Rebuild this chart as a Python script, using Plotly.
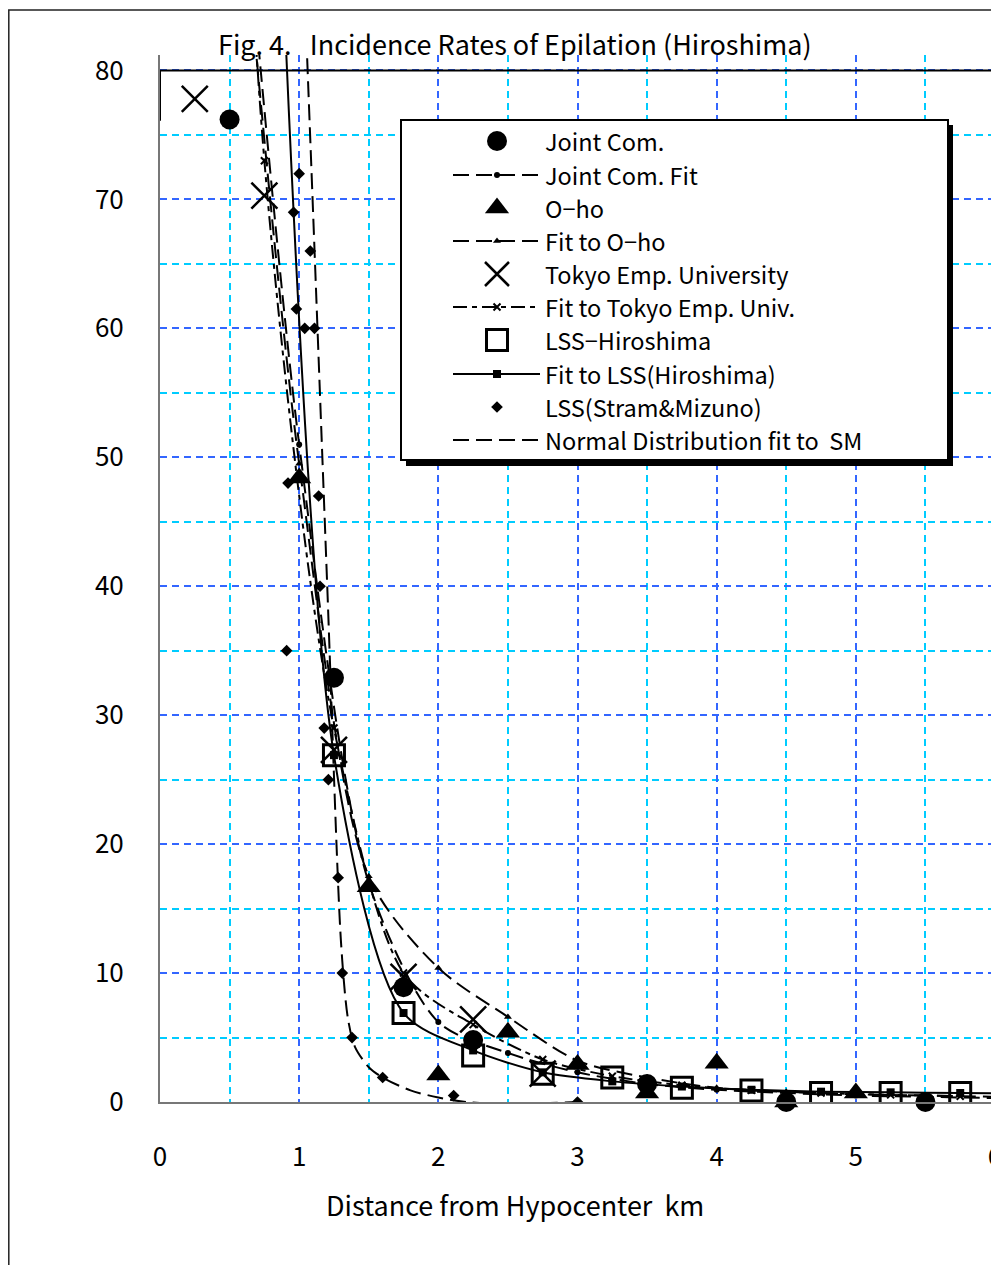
import plotly.graph_objects as go

# ---------------- data ----------------
joint_x = [0.5, 1.25, 1.75, 2.25, 3.5, 4.5, 5.5]
joint_y = [76.2, 32.9, 8.9, 4.8, 1.4, 0.0, 0.0]

joint_fit_x = [0.5, 1.0, 1.5, 2.0, 2.5, 3.0, 3.5, 4.0, 4.5, 5.0, 5.5, 6.0]
joint_fit_y = [107, 51, 17.0, 6.2, 3.8, 2.3, 1.4, 0.95, 0.7, 0.5, 0.4, 0.3]

oho_x = [1.0, 1.5, 2.0, 2.5, 3.0, 3.5, 4.0, 4.5, 5.0]
oho_y = [48.4, 16.7, 2.1, 5.4, 2.9, 0.7, 3.0, 0.0, 0.7]

oho_fit_x = [0.5, 1.0, 1.5, 2.0, 2.5, 3.0, 3.5, 4.0, 4.5, 5.0, 5.5, 6.0]
oho_fit_y = [104, 49.5, 17.5, 10.4, 6.6, 3.2, 1.9, 1.1, 0.8, 0.6, 0.5, 0.4]

tokyo_x = [0.25, 0.75, 1.25, 1.75, 2.25, 2.75]
tokyo_y = [77.8, 70.3, 27.3, 9.7, 6.4, 2.2]

tokyo_fit_x = [0.25, 0.75, 1.25, 1.75, 2.25, 2.75, 3.25, 3.75, 4.25, 4.75, 5.25, 5.75]
tokyo_fit_y = [190, 73, 29, 10.0, 6.0, 3.3, 2.0, 1.3, 0.9, 0.7, 0.55, 0.45]

lss_x = [1.25, 1.75, 2.25, 2.75, 3.25, 3.75, 4.25, 4.75, 5.25, 5.75]
lss_y = [26.9, 6.9, 3.6, 2.2, 1.9, 1.1, 0.9, 0.7, 0.7, 0.7]

lss_fit_x = [0.75, 1.25, 1.75, 2.25, 2.75, 3.25, 3.75, 4.25, 4.75, 5.25, 5.75, 6.25]
lss_fit_y = [126, 26.9, 6.9, 4.0, 2.3, 1.6, 1.2, 0.95, 0.8, 0.75, 0.7, 0.65]

sm_x = [0.91, 0.92, 0.96, 0.98, 1.0, 1.04, 1.08, 1.11, 1.14, 1.15, 1.18, 1.21, 1.28, 1.31, 1.38, 1.6, 2.11, 3.0]
sm_y = [35, 48, 69, 61.5, 72, 60, 66, 60, 47, 40, 29, 25, 17.4, 10, 5, 1.9, 0.5, 0]

norm_x = [1.0, 1.1, 1.2, 1.3, 1.35, 1.4, 1.5, 1.6, 1.8, 2.0, 2.2, 2.5, 3.0]
norm_y = [97, 69, 40.5, 12.5, 6.5, 4.3, 2.7, 1.9, 0.9, 0.35, 0.0, -0.15, 0.0]

x_ticks = [0, 1, 2, 3, 4, 5, 6]
y_ticks = [0, 10, 20, 30, 40, 50, 60, 70, 80]

title_text = "Fig. 4.   Incidence Rates of Epilation (Hiroshima)"
xtitle_text = "Distance from Hypocenter  km"
legend_names = ["Joint Com.", "Joint Com. Fit", "O−ho", "Fit to O−ho",
                "Tokyo Emp. University", "Fit to Tokyo Emp. Univ.",
                "LSS−Hiroshima", "Fit to LSS(Hiroshima)", "LSS(Stram&Mizuno)",
                "Normal Distribution fit to  SM"]

# ---------------- geometry / styling ----------------
FONT = "Noto Sans CJK JP"
OFF = 8                      # page body margin
W, H = 991, 1257
L, R, T, B = 152, 4, 47, 163
XMAX, YMAX = 6.0, 81.2
PX0, PX1 = L + OFF, W - R + OFF          # screen x of plot edges
PY0, PY1 = T + OFF, H - B + OFF          # screen y of plot edges (top, bottom)
LONG = "16px,7px"
DASHDOT = "14px,5px,5px,5px"
BLUE = "#3366FF"
CYAN = "#00CCFF"
SPL = dict(shape="spline", smoothing=0.8)


def dx(s):   # screen x -> data x
    return (s - PX0) / (PX1 - PX0) * XMAX


def dy(s):   # screen y -> data y
    return (PY1 - s) / (PY1 - PY0) * YMAX


def px(s):   # screen x -> paper
    return (s - PX0) / (PX1 - PX0)


def py(s):   # screen y -> paper
    return (PY1 - s) / (PY1 - PY0)


fig = go.Figure()

# fit lines
fig.add_trace(go.Scatter(x=norm_x, y=norm_y, mode="lines",
                         line=dict(color="black", width=2, dash=LONG, **SPL)))
fig.add_trace(go.Scatter(x=joint_fit_x, y=joint_fit_y, mode="lines+markers",
                         line=dict(color="black", width=2, dash=LONG, **SPL),
                         marker=dict(symbol="circle", size=6, color="black")))
fig.add_trace(go.Scatter(x=oho_fit_x, y=oho_fit_y, mode="lines+markers",
                         line=dict(color="black", width=2, dash=LONG, **SPL),
                         marker=dict(symbol="triangle-up", size=7, color="black")))
fig.add_trace(go.Scatter(x=tokyo_fit_x, y=tokyo_fit_y, mode="lines+markers",
                         line=dict(color="black", width=2, dash=DASHDOT, **SPL),
                         marker=dict(symbol="x-thin-open", size=7, color="black",
                                     line=dict(width=2, color="black"))))
fig.add_trace(go.Scatter(x=lss_fit_x, y=lss_fit_y, mode="lines",
                         line=dict(color="black", width=2, **SPL)))

# data markers
fig.add_trace(go.Scatter(x=lss_x, y=lss_y, mode="markers",
                         marker=dict(symbol="square-open", size=21, color="black",
                                     line=dict(width=3, color="black"))))
fig.add_trace(go.Scatter(x=lss_fit_x, y=lss_fit_y, mode="markers",
                         marker=dict(symbol="square", size=8, color="black")))
fig.add_trace(go.Scatter(x=sm_x, y=sm_y, mode="markers",
                         marker=dict(symbol="diamond", size=9, color="black")))
fig.add_trace(go.Scatter(x=joint_x, y=joint_y, mode="markers", cliponaxis=False,
                         marker=dict(symbol="circle", size=20, color="black")))
fig.add_trace(go.Scatter(x=oho_x, y=oho_y, mode="markers", cliponaxis=False,
                         marker=dict(symbol="triangle-up", size=21, color="black")))
fig.add_trace(go.Scatter(x=tokyo_x, y=tokyo_y, mode="markers",
                         marker=dict(symbol="x-thin-open", size=26, color="black",
                                     line=dict(width=2.5, color="black"))))

# ---------------- manual legend (positions given in screen pixels) ----------------
rows = [141, 175, 208, 241, 274, 307, 340, 374, 407, 440]
SX, LX0, LX1, TX = 497, 453, 540, 543


def leg_line(y, dash, width=2):
    fig.add_trace(go.Scatter(x=[dx(LX0), dx(LX1)], y=[dy(y), dy(y)], mode="lines",
                             line=dict(color="black", width=width, dash=dash)))


def leg_mark(y, symbol, size, lw=0):
    m = dict(symbol=symbol, size=size, color="black")
    if lw:
        m["line"] = dict(width=lw, color="black")
    fig.add_trace(go.Scatter(x=[dx(SX)], y=[dy(y)], mode="markers", marker=m))


leg_mark(rows[0], "circle", 20)
leg_line(rows[1], LONG); leg_mark(rows[1], "circle", 6)
leg_mark(rows[2], "triangle-up", 21)
leg_line(rows[3], LONG); leg_mark(rows[3], "triangle-up", 7)
leg_mark(rows[4], "x-thin-open", 24, 2.5)
leg_line(rows[5], DASHDOT); leg_mark(rows[5], "x-thin-open", 7, 2)
leg_mark(rows[6], "square-open", 21, 3)
leg_line(rows[7], None); leg_mark(rows[7], "square", 8)
leg_mark(rows[8], "diamond", 9)
leg_line(rows[9], LONG)

annotations = []
for name, y in zip(legend_names, rows):
    annotations.append(dict(x=dx(TX), y=dy(y), xref="x", yref="y", text=name, showarrow=False,
                            xanchor="left", yanchor="middle",
                            font=dict(family=FONT, size=23.5, color="black")))

annotations.append(dict(x=px(515), y=py(43), xref="paper", yref="paper", text=title_text,
                        showarrow=False, xanchor="center", yanchor="middle",
                        font=dict(family=FONT, size=27, color="black")))
annotations.append(dict(x=px(515), y=py(1204), xref="paper", yref="paper", text=xtitle_text,
                        showarrow=False, xanchor="center", yanchor="middle",
                        font=dict(family=FONT, size=27, color="black")))

shapes = [
    # outer chart border (left edge sits at the very edge of the figure)
    dict(type="rect", xref="paper", yref="paper", x0=px(OFF + 0.8), y0=py(1320), x1=px(1030), y1=py(10),
         line=dict(color="#222", width=1.5), layer="above"),
    # legend shadow & box
    dict(type="rect", xref="x", yref="y", x0=dx(406), y0=dy(466), x1=dx(953), y1=dy(125),
         fillcolor="black", line=dict(width=0), layer="between"),
    dict(type="rect", xref="x", yref="y", x0=dx(401), y0=dy(460), x1=dx(948), y1=dy(120),
         fillcolor="white", line=dict(color="black", width=2), layer="between"),
    # black top frame of plot area
    dict(type="line", xref="x", yref="y", x0=0, y0=80, x1=6, y1=80,
         line=dict(color="black", width=2), layer="above"),
    dict(type="line", xref="x", yref="y", x0=0, y0=80, x1=0, y1=76.1,
         line=dict(color="black", width=2), layer="above"),
    dict(type="line", xref="x", yref="y", x0=6, y0=80, x1=6, y1=76.1,
         line=dict(color="black", width=2), layer="above"),
]

fig.update_layout(
    width=W, height=H,
    margin=dict(l=L, r=R, t=T, b=B, pad=0, autoexpand=False),
    paper_bgcolor="white", plot_bgcolor="white",
    showlegend=False,
    font=dict(family=FONT, size=26, color="black"),
    xaxis=dict(range=[0, XMAX], tickmode="array", tickvals=x_ticks,
               ticktext=[str(v) for v in x_ticks], ticks="", ticklabelstandoff=31,
               ticklabeloverflow="allow", automargin=False,
               showgrid=True, gridcolor=BLUE, gridwidth=2, griddash="7px,5px",
               minor=dict(dtick=0.5, showgrid=True, gridcolor=CYAN, gridwidth=2, griddash="7px,5px"),
               showline=True, linecolor="#777", linewidth=2, zeroline=False,
               tickfont=dict(family=FONT, size=26)),
    yaxis=dict(range=[0, YMAX], tickmode="array", tickvals=y_ticks,
               ticktext=[str(v) for v in y_ticks], ticks="", ticklabelstandoff=29,
               automargin=False,
               showgrid=True, gridcolor=BLUE, gridwidth=2, griddash="7px,5px",
               minor=dict(tickmode="array", tickvals=[5, 15, 25, 35, 45, 55, 65, 75], showgrid=True,
                          gridcolor=CYAN, gridwidth=2, griddash="7px,5px"),
               showline=True, linecolor="#777", linewidth=2, zeroline=False,
               tickfont=dict(family=FONT, size=26)),
    annotations=annotations,
    shapes=shapes,
)

fig.write_html("out.html")
